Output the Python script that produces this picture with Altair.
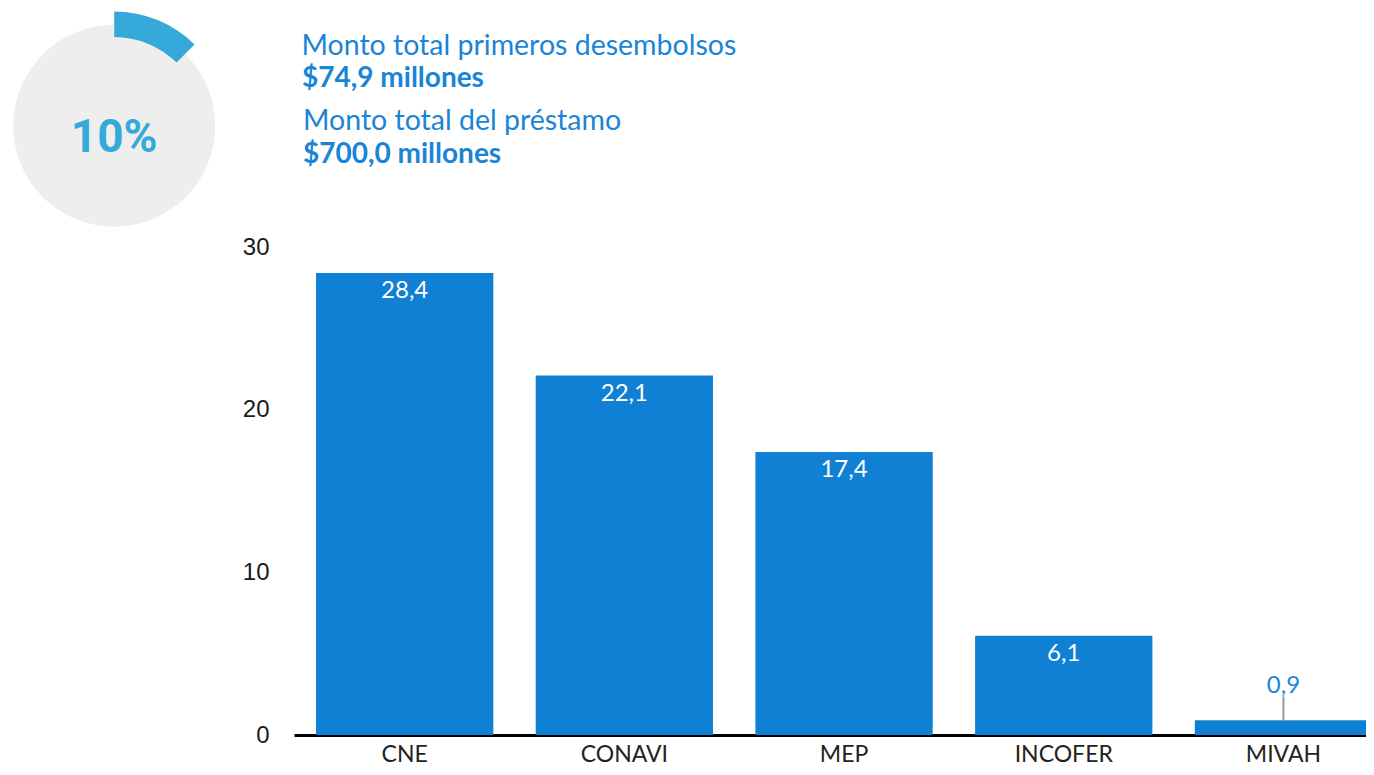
import math
import altair as alt
import pandas as pd

# ---- data ----
categories = ["CNE", "CONAVI", "MEP", "INCOFER", "MIVAH"]
values = [28.4, 22.1, 17.4, 6.1, 0.9]
y_ticks = [0, 10, 20, 30]
ring_kind = ["done", "rest"]
ring_share = [0.124, 0.876]
pct_label = ["10%"]
header_lines = [
    "Monto total primeros desembolsos",
    "$74,9 millones",
    "Monto total del préstamo",
    "$700,0 millones",
]

BAR = "#0f80d3"
TXT = "#1a84d6"
ARC = "#35a9da"


def fmt(v):
    return f"{v:.1f}".replace(".", ",")


bars_df = pd.DataFrame({
    "cat": categories,
    "value": values,
    "label": [fmt(v) for v in values],
    "inside": [v > 3 for v in values],
})
ring_df = pd.DataFrame({"kind": ring_kind, "share": ring_share, "ord": [0, 1]})

x_enc = alt.X(
    "cat:N", sort=categories,
    scale=alt.Scale(paddingInner=0.193, paddingOuter=0.0545, align=0.92),
    axis=alt.Axis(title=None, labelAngle=0, labelFont="Lato", labelFontSize=23,
                  labelColor="#222222", labelPadding=8, ticks=False,
                  domainColor="#000000", domainWidth=3),
)
y_enc = alt.Y(
    "value:Q",
    scale=alt.Scale(domain=[0, 30], nice=False),
    axis=alt.Axis(title=None, values=y_ticks, grid=False, ticks=False, domain=False,
                  labelFont="Liberation Sans", labelFontSize=24, labelColor="#1a1a1a",
                  labelPadding=25),
)

base = alt.Chart(bars_df)
bars = base.mark_bar(color=BAR).encode(x=x_enc, y=y_enc)
inside_lbl = base.transform_filter("datum.inside").mark_text(
    color="white", font="Lato", fontSize=24, baseline="alphabetic", dy=25
).encode(x=x_enc, y=y_enc, text="label:N")
outside_lbl = base.transform_filter("!datum.inside").mark_text(
    color=TXT, font="Lato", fontSize=24, baseline="alphabetic", dy=-27
).encode(x=x_enc, y=y_enc, text="label:N")
leader = base.transform_filter("!datum.inside").mark_rule(
    color="#9a9a9a", strokeWidth=2, y2Offset=-24
).encode(x=x_enc, y=y_enc, y2="value:Q")

CX, CY = -179.8, -121.2
disk = alt.Chart(ring_df).transform_aggregate(total="sum(share)").mark_arc(
    color="#eeeeee", radius=101
).encode(theta=alt.Theta("total:Q", scale=alt.Scale(domain=[0, 1])),
         x=alt.value(CX), y=alt.value(CY))
ring = alt.Chart(ring_df).mark_arc(radius=114.3, radius2=88.8).encode(
    theta=alt.Theta("share:Q", stack=True, scale=alt.Scale(domain=[0, 1])),
    order=alt.Order("ord:Q"),
    color=alt.Color("kind:N", legend=None,
                    scale=alt.Scale(domain=ring_kind, range=[ARC, "rgba(0,0,0,0)"])),
    x=alt.value(CX), y=alt.value(CY),
)
pct = alt.Chart(pd.DataFrame({"t": pct_label})).mark_text(
    font="Roboto", fontWeight="bold", fontSize=46, color=ARC, align="center",
    baseline="alphabetic"
).encode(text="t:N", x=alt.value(CX), y=alt.value(-95))

header_pos = [(7.5, -192, "normal", 28.5), (8, -160, "bold", 28),
              (9, -117, "normal", 28.5), (9, -84, "bold", 28)]
headers = []
for line, (hx, hy, hw, fs) in zip(header_lines, header_pos):
    headers.append(
        alt.Chart(pd.DataFrame({"t": [line]})).mark_text(
            font="Lato", fontSize=fs, fontWeight=hw, color=TXT, align="left",
            baseline="alphabetic"
        ).encode(text="t:N", x=alt.value(hx), y=alt.value(hy))
    )

chart = alt.layer(bars, leader, inside_lbl, outside_lbl, disk, ring, pct, *headers).properties(
    width=1080, height=488,
    padding={"left": 286, "top": 239, "right": -8, "bottom": 32},
    autosize=alt.AutoSizeParams(type="none"),
).resolve_scale(theta="independent").configure_view(stroke=None)

chart.save("out.html", embed_options={"renderer": "svg", "actions": False})
